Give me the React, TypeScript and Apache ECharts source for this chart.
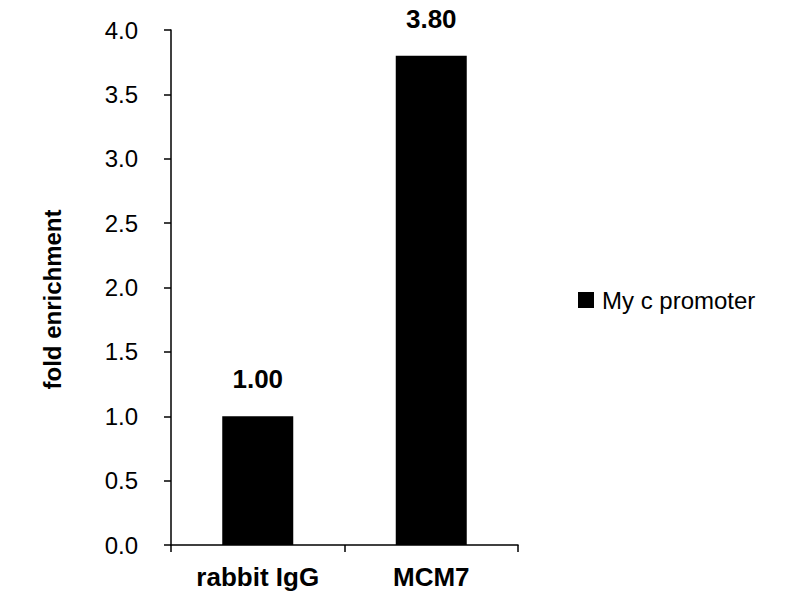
import React, { useEffect, useRef } from "react";
import * as echarts from "echarts";

const categories = ["rabbit IgG", "MCM7"];
const values = [1.0, 3.8];
const seriesName = "My c promoter";
const yTicks = { min: 0, max: 4, interval: 0.5 };

export default function App() {
  const ref = useRef<HTMLDivElement>(null);
  useEffect(() => {
    document.body.style.margin = "0";
    const chart = echarts.init(ref.current!, null, { renderer: "svg" });
    const font = "Liberation Sans, Arial, sans-serif";
    chart.setOption({
      animation: false,
      backgroundColor: "#ffffff",
      textStyle: { fontFamily: font },
      grid: { left: 171, right: 282, top: 30, bottom: 55, containLabel: false },
      legend: {
        orient: "vertical",
        left: 573,
        top: 283,
        icon: "rect",
        itemWidth: 16,
        itemHeight: 16,
        data: [seriesName],
        textStyle: { fontSize: 24, color: "#000", fontFamily: font, padding: [0, 0, 0, 3] },
      },
      xAxis: {
        type: "category",
        data: categories,
        axisLine: { lineStyle: { color: "#000", width: 1.5 } },
        axisTick: { show: true, alignWithLabel: false, length: 7, lineStyle: { color: "#000", width: 1.5 } },
        axisLabel: { color: "#000", fontSize: 26, fontWeight: "bold", margin: 19, fontFamily: font },
      },
      yAxis: {
        type: "value",
        min: yTicks.min,
        max: yTicks.max,
        interval: yTicks.interval,
        name: "fold enrichment",
        nameLocation: "middle",
        nameGap: 107,
        nameTextStyle: {
          color: "#000",
          fontSize: 24,
          fontWeight: "bold",
          fontFamily: font,
          padding: [0, 24, 0, 0],
        },
        splitLine: { show: false },
        axisLine: { show: true, lineStyle: { color: "#000", width: 1.5 } },
        axisTick: { show: true, length: 7, lineStyle: { color: "#000", width: 1.5 } },
        axisLabel: {
          color: "#000",
          fontSize: 24,
          margin: 33,
          fontFamily: font,
          formatter: (v: number) => v.toFixed(1),
        },
      },
      series: [
        {
          name: seriesName,
          type: "bar",
          data: values,
          barWidth: 71,
          itemStyle: { color: "#000" },
          label: {
            show: true,
            position: "top",
            distance: 24,
            color: "#000",
            fontSize: 26,
            fontWeight: "bold",
            fontFamily: font,
            formatter: (p: any) => Number(p.value).toFixed(2),
          },
        },
      ],
    });
    return () => chart.dispose();
  }, []);
  return <div ref={ref} style={{ width: 800, height: 600 }} />;
}
